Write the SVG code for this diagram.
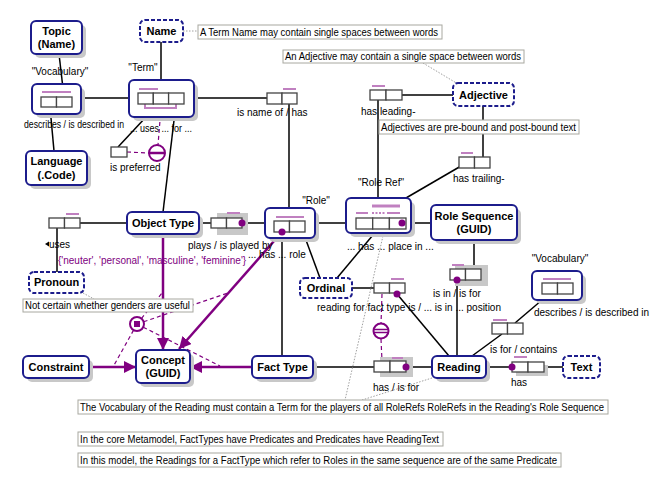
<svg xmlns="http://www.w3.org/2000/svg" width="656" height="487" viewBox="0 0 656 487">
<defs>
<marker id="ah" markerUnits="userSpaceOnUse" markerWidth="14" markerHeight="12" refX="12" refY="6" orient="auto"><path d="M0,0 L12,6 L0,12 z" fill="#800080"/></marker>
<style>
text{font-family:"Liberation Sans",Arial,sans-serif;font-size:10px;fill:#000}
.b{font-weight:bold;font-size:11px;text-anchor:middle}
.m{text-anchor:middle}
.ent{fill:#fff;stroke:#1c1c8c;stroke-width:2}
.val{fill:#fff;stroke:#1c1c8c;stroke-width:2;stroke-dasharray:4 2}
.sh{fill:#c8c8c8}
.role{fill:#fff;stroke:#444;stroke-width:1.3}
.uc{stroke:#c080c0;stroke-width:2;fill:none}
.ln{stroke:#000;stroke-width:1.5;fill:none}
.sub{stroke:#800080;stroke-width:2.5;fill:none;marker-end:url(#ah)}
.cd{stroke:#800080;stroke-width:1.2;stroke-dasharray:4 3;fill:none}
.dt{stroke:#a0a0a0;stroke-width:1;stroke-dasharray:1.5 1.5;fill:none}
.nb{fill:#fff;stroke:#a8a8a0;stroke-width:1}
.dot{fill:#800080}
.pc{fill:#fff;stroke:#800080;stroke-width:2}
.pv{fill:#800080}
</style>
</defs>

<g id="connectors">
<line class="ln" x1="81" y1="98" x2="129" y2="98"/>
<line class="ln" x1="59" y1="54" x2="64" y2="97"/>
<line class="ln" x1="50" y1="107" x2="54" y2="151"/>
<line class="ln" x1="161" y1="42" x2="161" y2="93"/>
<line class="ln" x1="194" y1="98" x2="267" y2="98"/>
<line class="ln" x1="289" y1="104" x2="289" y2="208"/>
<line class="ln" x1="118" y1="147" x2="146" y2="117"/>
<line class="ln" x1="176" y1="104" x2="163" y2="212"/>
<line class="ln" x1="80" y1="223" x2="127" y2="223"/>
<line class="ln" x1="57" y1="228" x2="57" y2="272"/>
<line class="ln" x1="199" y1="223" x2="211" y2="223"/>
<line class="ln" x1="242" y1="223" x2="265" y2="223"/>
<line class="ln" x1="315" y1="223" x2="346" y2="223"/>
<line class="ln" x1="411" y1="223" x2="431" y2="223"/>
<line class="ln" x1="378" y1="100" x2="378" y2="198"/>
<line class="ln" x1="402" y1="95" x2="453" y2="95"/>
<line class="ln" x1="483" y1="106" x2="483" y2="157"/>
<line class="ln" x1="406" y1="198" x2="461" y2="166"/>
<line class="ln" x1="474" y1="240" x2="474" y2="269"/>
<line class="ln" x1="457" y1="280" x2="457" y2="356"/>
<line class="ln" x1="542" y1="300" x2="515" y2="323"/>
<line class="ln" x1="502" y1="334" x2="472" y2="356"/>
<line class="ln" x1="486" y1="367" x2="512" y2="367"/>
<line class="ln" x1="544" y1="367" x2="563" y2="367"/>
<line class="ln" x1="378" y1="229" x2="337" y2="278"/>
<line class="ln" x1="303" y1="232" x2="320" y2="278"/>
<line class="ln" x1="352" y1="288" x2="374" y2="288"/>
<line class="ln" x1="397" y1="294" x2="449" y2="356"/>
<line class="ln" x1="282" y1="232" x2="282" y2="356"/>
<line class="ln" x1="313" y1="367" x2="374" y2="367"/>
<line class="ln" x1="406" y1="367" x2="432" y2="367"/>

<line class="dt" x1="183" y1="31" x2="198" y2="31"/>
<line class="dt" x1="423" y1="63" x2="458" y2="84"/>
<line class="dt" x1="83" y1="293" x2="94" y2="299"/>
<line class="dt" x1="383" y1="236" x2="345" y2="400"/>
<line class="dt" x1="432" y1="378" x2="362" y2="400"/>

<line class="sub" x1="163" y1="234" x2="163" y2="350"/>
<line class="sub" x1="282" y1="232" x2="179" y2="349"/>
<line class="sub" x1="252" y1="367" x2="190" y2="367"/>
<line class="sub" x1="89" y1="367" x2="136" y2="367"/>

<line class="cd" x1="161" y1="108" x2="158" y2="145"/>
<line class="cd" x1="127" y1="152" x2="149" y2="153"/>
<line class="cd" x1="382" y1="294" x2="381" y2="324"/>
<line class="cd" x1="381" y1="339" x2="382" y2="361"/>
<line class="cd" x1="137" y1="324" x2="162" y2="293"/>
<line class="cd" x1="137" y1="324" x2="228" y2="293"/>
<line class="cd" x1="137" y1="324" x2="113" y2="367"/>
<line class="cd" x1="137" y1="324" x2="220" y2="366"/>
</g>

<g id="constraints">
<circle class="pc" cx="157" cy="153" r="8"/>
<line x1="149" y1="153" x2="165" y2="153" stroke="#800080" stroke-width="2.5"/>
<circle class="pc" cx="381" cy="331" r="7.5"/>
<line x1="374" y1="329.5" x2="388" y2="329.5" stroke="#800080" stroke-width="1.5"/>
<line x1="374" y1="332.5" x2="388" y2="332.5" stroke="#800080" stroke-width="1.5"/>
<circle class="pc" cx="137" cy="324" r="7"/>
<rect x="134" y="321" width="6" height="6" class="pv"/>
</g>

<g id="topic"><rect class="sh" x="35" y="25" width="51" height="33" rx="5"/><rect class="ent" x="31" y="21" width="51" height="33" rx="5"/><text class="b" x="56.5" y="35">Topic</text><text class="b" x="56.5" y="48">(Name)</text></g>
<g id="name"><rect class="val" x="140" y="20" width="43" height="22" rx="5"/><text class="b" x="161.5" y="35">Name</text></g>
<g id="note-name"><rect class="nb" x="198" y="25" width="244" height="14"/><text x="200" y="36" textLength="238" lengthAdjust="spacingAndGlyphs">A Term Name may contain single spaces between words</text></g>

<g id="vocabulary1"><rect class="sh" x="36" y="88" width="49" height="30" rx="5"/><rect class="ent" x="32" y="84" width="49" height="30" rx="5"/><line class="uc" x1="42" y1="92" x2="71" y2="92"/><rect class="role" x="41" y="97" width="15.5" height="10"/><rect class="role" x="56.5" y="97" width="15.5" height="10"/><text class="m" x="60" y="75">"Vocabulary"</text><text x="24" y="128" textLength="100" lengthAdjust="spacingAndGlyphs">describes / is described in</text></g>

<g id="term"><rect class="sh" x="133" y="84" width="65" height="37" rx="5"/><rect class="ent" x="129" y="80" width="65" height="37" rx="5"/><line class="uc" x1="139" y1="89" x2="158" y2="89"/><path class="uc" d="M145,104 V108 H176 V104"/><rect class="role" x="138" y="93" width="15.3" height="11"/><rect class="role" x="153.3" y="93" width="15.3" height="11"/><rect class="role" x="168.6" y="93" width="15.4" height="11"/><text class="m" x="143" y="71">"Term"</text><text x="130" y="132" textLength="62" lengthAdjust="spacingAndGlyphs">... uses ... for ...</text></g>

<g id="is-preferred"><rect class="role" x="111" y="147" width="16" height="10"/><text x="110" y="171">is preferred</text></g>

<g id="is-name-of"><line class="uc" x1="283" y1="89" x2="296" y2="89"/><rect class="role" x="267" y="93" width="15" height="11"/><rect class="role" x="282" y="93" width="15" height="11"/><text x="237" y="116">is name of / has</text></g>

<g id="language"><rect class="sh" x="30" y="155" width="61" height="34" rx="5"/><rect class="ent" x="26" y="151" width="61" height="34" rx="5"/><text class="b" x="56.5" y="165">Language</text><text class="b" x="56.5" y="179">(.Code)</text></g>

<g id="uses"><line class="uc" x1="66" y1="214" x2="79" y2="214"/><rect class="role" x="49" y="218" width="15.5" height="10"/><rect class="role" x="64.5" y="218" width="15.5" height="10"/><path d="M45,244 L49,241.5 L49,246.5 z" fill="#000"/><text x="49" y="248">uses</text></g>

<g id="pronoun"><rect class="val" x="29" y="272" width="55" height="21" rx="5"/><text class="b" x="56.5" y="286">Pronoun</text><text x="58" y="264" style="fill:#800080">{'neuter', 'personal', 'masculine', 'feminine'}</text></g>
<g id="note-genders"><rect class="nb" x="23" y="299" width="170" height="13"/><text x="25" y="309" textLength="165" lengthAdjust="spacingAndGlyphs">Not certain whether genders are useful</text></g>

<g id="object-type"><rect class="sh" x="131" y="216" width="72" height="22" rx="5"/><rect class="ent" x="127" y="212" width="72" height="22" rx="5"/><text class="b" x="163" y="227">Object Type</text></g>

<g id="plays"><rect class="sh" x="217" y="213" width="31" height="22"/><line class="uc" x1="227" y1="213" x2="240" y2="213"/><rect class="role" x="211" y="218" width="15.5" height="10"/><rect class="role" x="226.5" y="218" width="15.5" height="10"/><circle class="dot" cx="242" cy="223" r="3.5"/><text x="188" y="249">plays / is played by</text><text x="248" y="258">... has ... role</text></g>

<g id="role"><rect class="sh" x="269" y="212" width="50" height="30" rx="5"/><rect class="ent" x="265" y="208" width="50" height="30" rx="5"/><line class="uc" x1="276" y1="217" x2="304" y2="217"/><rect class="role" x="274" y="221" width="15.5" height="11"/><rect class="role" x="289.5" y="221" width="15.5" height="11"/><circle class="dot" cx="282" cy="232" r="3.5"/><text class="m" x="316" y="204">"Role"</text></g>

<g id="role-ref"><rect class="sh" x="350" y="202" width="65" height="35" rx="5"/><rect class="ent" x="346" y="198" width="65" height="35" rx="5"/><line x1="372" y1="206" x2="400" y2="206" stroke="#c080c0" stroke-width="3"/><line class="uc" x1="356" y1="213" x2="368" y2="213"/><line class="uc" x1="372" y1="213" x2="385" y2="213" stroke-dasharray="2 1.5"/><line class="uc" x1="387" y1="213" x2="400" y2="213"/><rect class="role" x="356" y="218" width="16.7" height="11"/><rect class="role" x="372.7" y="218" width="16.7" height="11"/><rect class="role" x="389.4" y="218" width="16.6" height="11"/><circle class="dot" cx="402" cy="223" r="3.5"/><text class="m" x="381" y="186">"Role Ref"</text><text x="347" y="250">... has ... place in ...</text></g>

<g id="has-leading"><line class="uc" x1="372" y1="86" x2="385" y2="86"/><rect class="role" x="370" y="90" width="16" height="10"/><rect class="role" x="386" y="90" width="16" height="10"/><text x="361" y="115">has leading-</text></g>
<g id="adjective"><rect class="val" x="453" y="83" width="61" height="23" rx="5"/><text class="b" x="483.5" y="99">Adjective</text></g>
<g id="note-adjective"><rect class="nb" x="283" y="50" width="241" height="13"/><text x="285" y="60" textLength="236" lengthAdjust="spacingAndGlyphs">An Adjective may contain a single space between words</text></g>
<g id="note-bound"><rect class="nb" x="379" y="120" width="200" height="14"/><text x="381" y="131" textLength="195" lengthAdjust="spacingAndGlyphs">Adjectives are pre-bound and post-bound text</text></g>
<g id="has-trailing"><line class="uc" x1="461" y1="153" x2="473" y2="153"/><rect class="role" x="459" y="157" width="15.5" height="11"/><rect class="role" x="474.5" y="157" width="15.5" height="11"/><text x="453" y="182">has trailing-</text></g>

<g id="role-sequence"><rect class="sh" x="435" y="209" width="86" height="35" rx="5"/><rect class="ent" x="431" y="205" width="86" height="35" rx="5"/><text class="b" x="474" y="220">Role Sequence</text><text class="b" x="474" y="233">(GUID)</text></g>

<g id="is-in"><rect class="sh" x="455" y="265" width="33" height="21"/><line class="uc" x1="452" y1="265" x2="464" y2="265"/><rect class="role" x="450" y="269" width="15.5" height="11"/><rect class="role" x="465.5" y="269" width="15.5" height="11"/><circle class="dot" cx="457" cy="280" r="3.5"/><text x="433" y="297">is in / is for</text></g>

<g id="vocabulary2"><rect class="sh" x="536" y="275" width="50" height="29" rx="5"/><rect class="ent" x="532" y="271" width="50" height="29" rx="5"/><line class="uc" x1="543" y1="279" x2="571" y2="279"/><rect class="role" x="542" y="283" width="15.5" height="11"/><rect class="role" x="557.5" y="283" width="15.5" height="11"/><text class="m" x="560" y="262">"Vocabulary"</text><text x="534" y="316">describes / is described in</text></g>

<g id="is-for-contains"><line class="uc" x1="493" y1="320" x2="507" y2="320"/><rect class="role" x="492" y="323" width="15.5" height="11"/><rect class="role" x="507.5" y="323" width="15.5" height="11"/><text x="490" y="353">is for / contains</text></g>

<g id="ordinal"><rect class="val" x="300" y="278" width="52" height="20" rx="5"/><text class="b" x="326" y="292">Ordinal</text></g>

<g id="reading-for"><line class="uc" x1="391" y1="279" x2="404" y2="279"/><rect class="role" x="374" y="283" width="15.5" height="10"/><rect class="role" x="389.5" y="283" width="15.5" height="10"/><circle class="dot" cx="397" cy="294" r="3.5"/><text x="317" y="311">reading for fact type is / ... is in ... position</text></g>

<g id="has-is-for"><rect class="sh" x="380" y="357" width="33" height="20"/><line class="uc" x1="392" y1="358" x2="403" y2="358"/><rect class="role" x="374" y="361" width="16" height="11"/><rect class="role" x="390" y="361" width="16" height="11"/><circle class="dot" cx="406" cy="367" r="3.5"/><text x="373" y="391">has / is for</text></g>

<g id="reading"><rect class="sh" x="436" y="360" width="54" height="22" rx="5"/><rect class="ent" x="432" y="356" width="54" height="22" rx="5"/><text class="b" x="459" y="371">Reading</text></g>

<g id="reading-has"><rect class="sh" x="516" y="365" width="32" height="11"/><line class="uc" x1="514" y1="357" x2="527" y2="357"/><rect class="role" x="512" y="362" width="16" height="10"/><rect class="role" x="528" y="362" width="16" height="10"/><circle class="dot" cx="512" cy="367" r="3.5"/><text x="511" y="386">has</text></g>

<g id="text"><rect class="val" x="563" y="356" width="37" height="22" rx="5"/><text class="b" x="581.5" y="371">Text</text></g>

<g id="fact-type"><rect class="sh" x="256" y="360" width="61" height="22" rx="5"/><rect class="ent" x="252" y="356" width="61" height="22" rx="5"/><text class="b" x="282.5" y="371">Fact Type</text></g>

<g id="concept"><rect class="sh" x="140" y="354" width="54" height="33" rx="5"/><rect class="ent" x="136" y="350" width="54" height="33" rx="5"/><text class="b" x="163" y="364">Concept</text><text class="b" x="163" y="377">(GUID)</text></g>

<g id="constraint"><rect class="sh" x="27" y="360" width="66" height="22" rx="5"/><rect class="ent" x="23" y="356" width="66" height="22" rx="5"/><text class="b" x="56" y="371">Constraint</text></g>

<g id="note-vocab"><rect class="nb" x="78" y="400" width="530" height="14"/><text x="80" y="411" textLength="524" lengthAdjust="spacingAndGlyphs">The Vocabulary of the Reading must contain a Term for the players of all RoleRefs RoleRefs in the Reading's Role Sequence</text></g>
<g id="note-core"><rect class="nb" x="78" y="432" width="365" height="14"/><text x="80" y="443" textLength="359" lengthAdjust="spacingAndGlyphs">In the core Metamodel, FactTypes have Predicates and Predicates have ReadingText</text></g>
<g id="note-model"><rect class="nb" x="78" y="453" width="483" height="14"/><text x="80" y="464" textLength="477" lengthAdjust="spacingAndGlyphs">In this model, the Readings for a FactType which refer to Roles in the same sequence are of the same Predicate</text></g>
</svg>
